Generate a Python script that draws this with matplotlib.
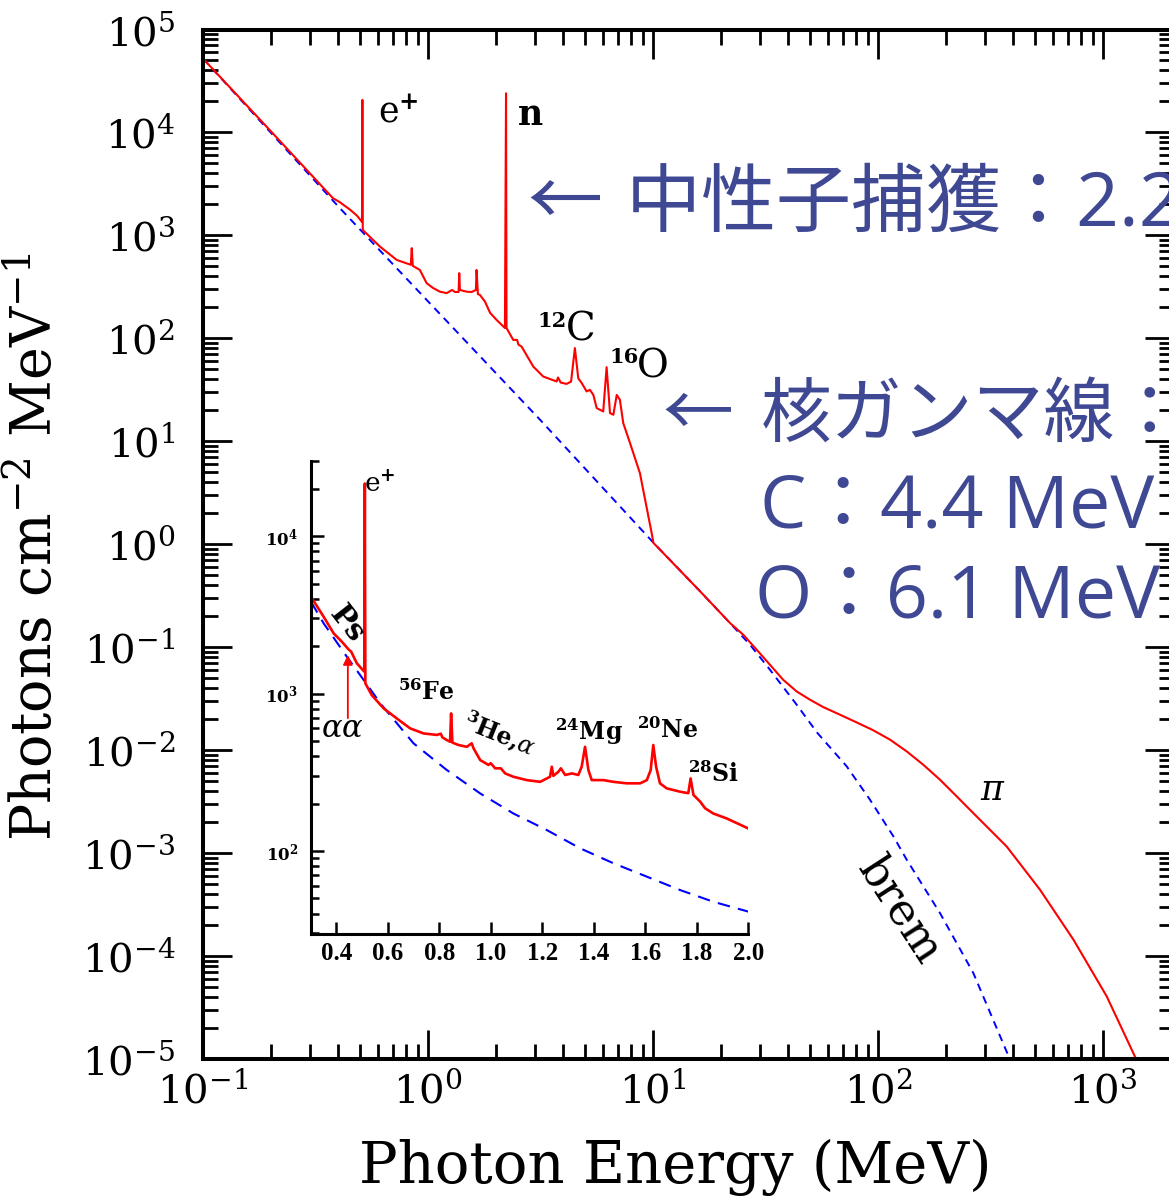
import numpy as np
import matplotlib
matplotlib.use("Agg")
import matplotlib.pyplot as plt
from matplotlib.ticker import LogLocator, NullFormatter, FixedLocator, FixedFormatter

# main spectrum (photon energy in MeV, photons cm^-2 MeV^-1)
main_E_red = [0.100, 0.200, 0.378, 0.406, 0.450, 0.483, 0.509, 0.511, 0.513,
              0.612, 0.726, 0.839, 0.847, 0.856, 0.920, 0.986, 1.052, 1.130,
              1.211, 1.279, 1.318, 1.368, 1.377, 1.387, 1.486, 1.563, 1.633,
              1.644, 1.667, 1.702, 1.791, 1.888, 2.018, 2.198, 2.223, 2.234,
              2.393, 2.489, 2.523, 2.606, 2.938, 3.251, 3.733, 3.784, 3.890,
              4.130, 4.325, 4.498, 4.656, 4.831, 5.070, 5.248, 5.433, 5.623,
              6.012, 6.223, 6.442, 6.668, 6.902, 7.129, 7.379, 7.907, 8.750,
              9.863, 10.05, 16.2, 22.0, 25.2, 28.9, 33.1, 37.9, 43.5,
              49.9, 57.1, 67.8, 80.4, 95.3, 113.1, 134.2, 159, 188.6,
              223.8, 265.2, 373.3, 524.8, 738.5, 1039, 1387, 1618]
main_F_red = [52200, 10300, 2300, 2100, 1780, 1560, 1352, 20700, 1130,
              778, 578, 518, 752, 506, 462, 344, 309, 284,
              275, 295, 282, 282, 430, 295, 284, 282, 295,
              462, 269, 264, 228, 177, 151, 126, 24000, 126,
              96.6, 96.6, 87, 83.2, 53.2, 42.6, 38.1, 41.7, 37.2,
              36.1, 38.0, 80.4, 40.9, 36.6, 30.5, 31.6, 28.2, 21.0,
              19.5, 52.5, 18.8, 18.1, 28.2, 25.3, 15.0, 9.62, 4.91,
              1.29, 1.03, 0.349, 0.1718, 0.1321, 0.0946, 0.0676, 0.0483, 0.0372,
              0.0309, 0.0262, 0.0221, 0.0186, 0.0156, 0.01265, 0.00973, 0.00722, 0.00517,
              0.00356, 0.00245, 0.00116, 4.42e-4, 1.45e-4, 4.07e-5, 1.06e-5, 5.2e-6]

main_E_brem = [0.100, 0.406, 1.0, 3.148, 10.05, 16.2, 22.0, 27.0, 33.1, 43.5,
               53.8, 72.6, 92.1, 117, 134.2, 188.6, 265.2, 386.2, 427.6]
main_F_brem = [52200, 1837, 229, 16.2, 1.035, 0.349, 0.1718, 0.1057, 0.0605, 0.0277,
               0.0147, 0.00697, 0.00331, 0.00146, 8.64e-4, 2.62e-4, 6.87e-5, 9.9e-6, 5.9e-6]

# inset, 0.3 - 2 MeV on a linear energy axis
inset_E_red = [0.302, 0.351, 0.390, 0.422, 0.448, 0.458, 0.480, 0.509, 0.511, 0.513,
               0.538, 0.584, 0.635, 0.687, 0.739, 0.791, 0.806, 0.812, 0.829, 0.842,
               0.846, 0.851, 0.875, 0.907, 0.926, 0.933, 0.959, 0.991, 1.000, 1.017,
               1.039, 1.056, 1.088, 1.140, 1.192, 1.230, 1.237, 1.243, 1.263, 1.272,
               1.289, 1.315, 1.340, 1.353, 1.366, 1.379, 1.392, 1.437, 1.476, 1.528,
               1.580, 1.606, 1.621, 1.631, 1.642, 1.657, 1.683, 1.735, 1.767, 1.776,
               1.787, 1.813, 1.832, 1.864, 1.916, 2.000]
inset_F_red = [4121, 3076, 2410, 2133, 1905, 1845, 1556, 1377, 21580, 1161,
               977, 805, 695, 601, 558, 546, 556, 527, 507, 494,
               748, 488, 471, 459, 483, 449, 378, 352, 361, 335,
               335, 311, 296, 282, 275, 296, 343, 300, 319, 335,
               304, 311, 304, 343, 459, 327, 282, 282, 275, 269,
               269, 282, 327, 471, 343, 269, 250, 238, 233, 289,
               227, 206, 187, 173, 161, 139]
inset_E_brem = [0.302, 0.351, 0.441, 0.516, 0.571, 0.700, 0.829, 0.959,
                1.088, 1.217, 1.347, 1.476, 1.606, 1.735, 1.864, 2.000]
inset_F_brem = [3828, 2793, 1714, 1161, 867, 483, 327, 232,
                173, 136, 104, 83.6, 68.7, 56.5, 47.6, 41.2]

inset_xticks = [0.4, 0.6, 0.8, 1.0, 1.2, 1.4, 1.6, 1.8, 2.0]
inset_xlabels = ["0.4", "0.6", "0.8", "1.0", "1.2", "1.4", "1.6", "1.8", "2.0"]

jp_arrow = "←"
jp_lines = ["中性子捕獲：2.2 MeV", "核ガンマ線：", "C：4.4 MeV", "O：6.1 MeV"]

plt.rcParams["font.family"] = "DejaVu Serif"
plt.rcParams["mathtext.fontset"] = "dejavuserif"

W, H = 1169, 1196
fig = plt.figure(figsize=(W / 100, H / 100), dpi=100)

def px_box(left, top, right, bottom):
    return [left / W, 1 - bottom / H, (right - left) / W, (bottom - top) / H]

ax = fig.add_axes(px_box(203, 29.5, 1174, 1059))
ax.set_xscale("log")
ax.set_yscale("log")
ax.set_xlim(0.1, 2070)
ax.set_ylim(1e-5, 1e5)

ax.plot(main_E_brem, main_F_brem, color="blue", lw=1.4, dashes=(4, 3))
ax.plot(main_E_red, main_F_red, color="red", lw=1.5)

ax.xaxis.set_major_locator(LogLocator(base=10, numticks=20))
ax.yaxis.set_major_locator(LogLocator(base=10, numticks=20))
ax.xaxis.set_minor_locator(LogLocator(base=10, subs=np.arange(2, 10), numticks=100))
ax.yaxis.set_minor_locator(LogLocator(base=10, subs=np.arange(2, 10), numticks=100))
ax.xaxis.set_minor_formatter(NullFormatter())
ax.yaxis.set_minor_formatter(NullFormatter())
ax.tick_params(which="both", direction="in", top=True, right=True, width=2)
ax.tick_params(which="major", length=21, labelsize=29)
ax.tick_params(which="minor", length=11)
ax.tick_params(axis="x", which="major", pad=9)
ax.tick_params(axis="y", which="major", pad=20)
for s in ax.spines.values():
    s.set_linewidth(2.9)

# labels on the main curves
ax.text(0.60, 1.24e4, r"e$^{\mathbf{+}}$", fontsize=25)
ax.text(2.5, 1.18e4, "n", fontsize=25, fontweight="bold")
ax.text(3.08, 130, "12", fontsize=15, fontweight="bold")
ax.text(4.12, 96, "C", fontsize=28)
ax.text(6.4, 57, "16", fontsize=15, fontweight="bold")
ax.text(8.5, 42, "O", fontsize=28)
ax.text(284, 3.3e-3, r"$\pi$", fontsize=25)
ax.text(125, 2.8e-4, "brem", fontsize=32, rotation=-57,
        ha="center", va="center", rotation_mode="anchor")

fig.text(36 / W, 1 - 547 / H, r"Photons cm$^{-2}$ MeV$^{-1}$",
         rotation=90, ha="center", va="center", fontsize=40)
fig.text(675 / W, 1 - 1183 / H, "Photon Energy (MeV)",
         ha="center", va="baseline", fontsize=41.5)

# inset
axi = fig.add_axes(px_box(310.5, 461, 748.3, 934))
axi.patch.set_visible(False)
axi.set_yscale("log")
axi.set_xlim(0.3, 2.0)
axi.set_ylim(29.7, 3.0e4)
axi.plot(inset_E_brem, inset_F_brem, color="blue", lw=1.5, dashes=(6, 4))
axi.plot(inset_E_red, inset_F_red, color="red", lw=1.9)
axi.spines["top"].set_visible(False)
axi.spines["right"].set_visible(False)
for s in ["left", "bottom"]:
    axi.spines[s].set_linewidth(2.2)
axi.xaxis.set_major_locator(FixedLocator(inset_xticks))
axi.xaxis.set_major_formatter(FixedFormatter(inset_xlabels))
axi.yaxis.set_major_locator(FixedLocator([1e2, 1e3, 1e4]))
axi.yaxis.set_major_formatter(FixedFormatter([r"$\mathbf{10^{2}}$",
                                              r"$\mathbf{10^{3}}$",
                                              r"$\mathbf{10^{4}}$"]))
axi.yaxis.set_minor_locator(LogLocator(base=10, subs=np.arange(2, 10), numticks=100))
axi.yaxis.set_minor_formatter(NullFormatter())
axi.tick_params(which="both", direction="in", width=1.8)
axi.tick_params(axis="x", length=9, pad=6)
axi.tick_params(axis="y", which="major", length=9, labelsize=12, pad=9)
axi.tick_params(axis="y", which="minor", length=6)
for lab in axi.get_xticklabels():
    lab.set_family("Liberation Serif")
    lab.set_fontweight("bold")
    lab.set_fontsize(18)

axi.text(0.509, 1.9e4, r"e$^{\mathbf{+}}$", fontsize=19)
axi.text(0.443, 2760, "Ps", fontsize=21, fontweight="bold", rotation=-52,
         ha="center", va="center")
axi.text(0.423, 600, r"$\alpha\alpha$", fontsize=22, ha="center", va="center")
axi.annotate("", xy=(0.445, 1754), xytext=(0.445, 698),
             arrowprops=dict(arrowstyle="-|>", color="red", lw=1.3,
                             mutation_scale=14, shrinkA=0, shrinkB=0))
axi.text(0.641, 910, r"$^{\mathbf{56}}$Fe", fontsize=17, fontweight="bold")
axi.text(1.032, 546, r"$^{\mathbf{3}}$He,$\alpha$", fontsize=17, fontweight="bold",
         rotation=-22, ha="center", va="center")
axi.text(1.25, 507, r"$^{\mathbf{24}}$Mg", fontsize=17, fontweight="bold")
axi.text(1.568, 521, r"$^{\mathbf{20}}$Ne", fontsize=17, fontweight="bold")
axi.text(1.766, 275, r"$^{\mathbf{28}}$Si", fontsize=17, fontweight="bold")

# Japanese notes on top
jp_color = "#3f4893"
jp_fam = ["Open Sans", "Noto Sans CJK JP"]
fig.text(527 / W, 1 - 226 / H, jp_arrow, color=jp_color, fontsize=54,
         family="Noto Sans CJK JP", va="baseline")
fig.text(626 / W, 1 - 226 / H, jp_lines[0], color=jp_color, fontsize=54,
         family=jp_fam, va="baseline")
fig.text(663 / W, 1 - 436 / H, jp_arrow, color=jp_color, fontsize=51,
         family="Noto Sans CJK JP", va="baseline")
fig.text(761 / W, 1 - 436 / H, jp_lines[1], color=jp_color, fontsize=51,
         family=jp_fam, va="baseline")
fig.text(760 / W, 1 - 528 / H, jp_lines[2], color=jp_color, fontsize=53,
         family=jp_fam, va="baseline")
fig.text(755 / W, 1 - 617 / H, jp_lines[3], color=jp_color, fontsize=53,
         family=jp_fam, va="baseline")

fig.savefig("out.png", dpi=100)
